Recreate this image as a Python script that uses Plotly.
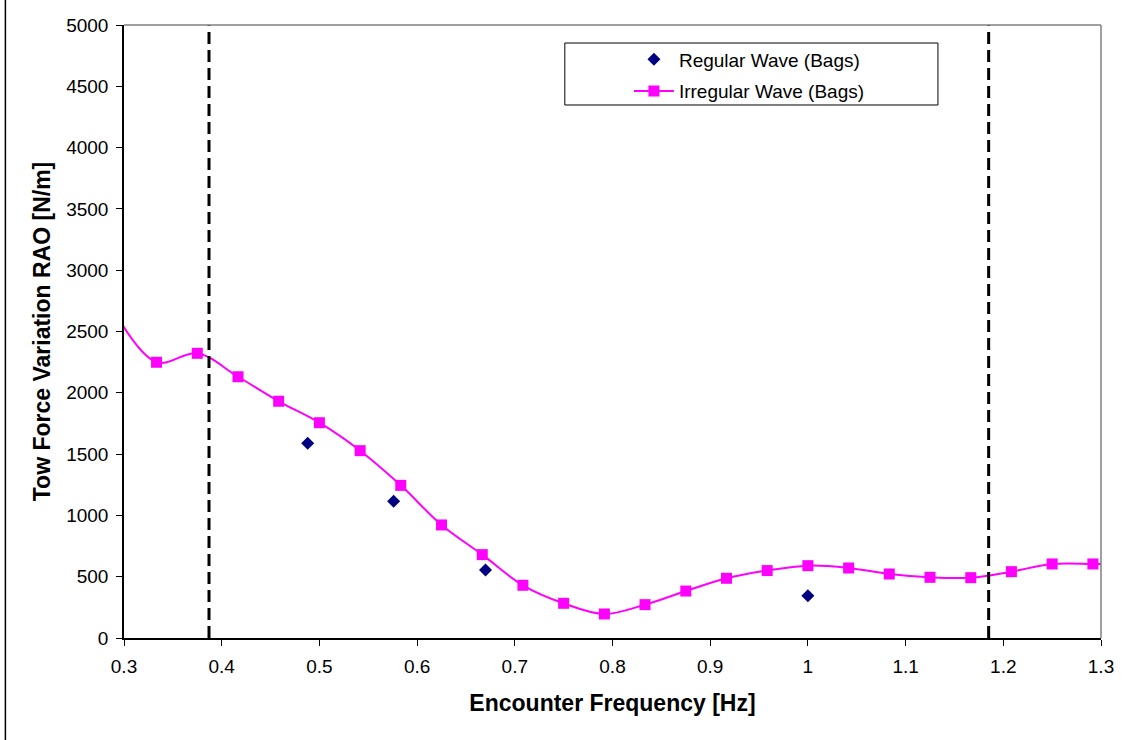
import plotly.graph_objects as go

# Irregular wave RAO (bags); first and last samples lie just outside the axis range
freq_irregular = [0.2917, 0.3333, 0.375, 0.4167, 0.4583, 0.5, 0.5417, 0.5833,
                  0.625, 0.6667, 0.7083, 0.75, 0.7917, 0.8333, 0.875, 0.9167,
                  0.9583, 1.0, 1.0417, 1.0833, 1.125, 1.1667, 1.2083, 1.25,
                  1.2917, 1.3333]
rao_irregular = [2640, 2249, 2322, 2131, 1931, 1756, 1528, 1245,
                 922, 680, 430, 283, 196, 272, 383, 487,
                 550, 590, 571, 522, 495, 492, 541, 604,
                 604, 595]

# Regular wave RAO (bags)
freq_regular = [0.488, 0.576, 0.670, 1.0]
rao_regular = [1588, 1115, 555, 345]

# Frequency band limits
band_limits = [0.387, 1.185]

x_ticks = [0.3, 0.4, 0.5, 0.6, 0.7, 0.8, 0.9, 1.0, 1.1, 1.2, 1.3]
x_tick_text = ["0.3", "0.4", "0.5", "0.6", "0.7", "0.8", "0.9", "1", "1.1", "1.2", "1.3"]
y_ticks = list(range(0, 5001, 500))

FONT = "Liberation Sans, Arial, sans-serif"

fig = go.Figure()

fig.add_trace(go.Scatter(
    x=freq_regular, y=rao_regular, mode="markers",
    name="Regular Wave (Bags)",
    marker=dict(symbol="diamond", size=10, color="#000080"),
    legendgroup="a",
))

fig.add_trace(go.Scatter(
    x=freq_irregular, y=rao_irregular, mode="lines+markers",
    name="Irregular Wave (Bags)",
    line=dict(color="#FF00FF", width=2, shape="spline", smoothing=1),
    marker=dict(symbol="square", size=11, color="#FF00FF"),
    legendgroup="b",
))

shapes = []
for xb in band_limits:
    shapes.append(dict(type="line", xref="x", yref="y", x0=xb, x1=xb, y0=0, y1=5000,
                       line=dict(color="black", width=3, dash="12px,6px"), layer="above"))

# top and right frame of the plot area
shapes.append(dict(type="line", xref="paper", yref="paper", x0=0, x1=1, y0=1, y1=1,
                   line=dict(color="#808080", width=1.5)))
shapes.append(dict(type="line", xref="paper", yref="paper", x0=1, x1=1, y0=0, y1=1,
                   line=dict(color="#808080", width=1.5)))
# outer chart border (left edge)
shapes.append(dict(type="line", xref="paper", yref="paper", x0=-0.1214, x1=-0.1214,
                   y0=-0.2, y1=1.1, line=dict(color="black", width=1.5)))
# legend box
shapes.append(dict(type="rect", xref="paper", yref="paper",
                   x0=0.4512, x1=0.8331, y0=0.8695, y1=0.9706,
                   line=dict(color="black", width=1), fillcolor="white", layer="above"))

fig.update_layout(
    width=1127, height=740,
    margin=dict(l=124, r=26, t=25, b=102),
    paper_bgcolor="white", plot_bgcolor="white",
    font=dict(family=FONT, size=19, color="black"),
    showlegend=True,
    legend=dict(
        x=0.5168, y=0.975, xanchor="left", yanchor="top",
        bgcolor="rgba(0,0,0,0)", borderwidth=0,
        font=dict(family=FONT, size=19, color="black"),
        itemwidth=40, tracegroupgap=4, traceorder="grouped",
    ),
    shapes=shapes,
    xaxis=dict(
        range=[0.3, 1.3], tickvals=x_ticks, ticktext=x_tick_text,
        showgrid=False, zeroline=False,
        showline=True, linecolor="black", linewidth=1.5,
        ticks="outside", ticklen=6, tickcolor="black", tickwidth=1,
        ticklabelstandoff=4,
        tickfont=dict(family=FONT, size=19),
        title=dict(text="<b>Encounter Frequency [Hz]</b>", font=dict(family=FONT, size=23),
                   standoff=19),
    ),
    yaxis=dict(
        range=[0, 5000], tickvals=y_ticks,
        showgrid=False, zeroline=False,
        showline=True, linecolor="black", linewidth=1.5,
        ticks="outside", ticklen=6, tickcolor="black", tickwidth=1,
        ticklabelstandoff=4,
        tickfont=dict(family=FONT, size=19),
        title=dict(text="<b>Tow Force Variation RAO [N/m]</b>", font=dict(family=FONT, size=23),
                   standoff=9),
    ),
)

fig.write_html("out.html")
